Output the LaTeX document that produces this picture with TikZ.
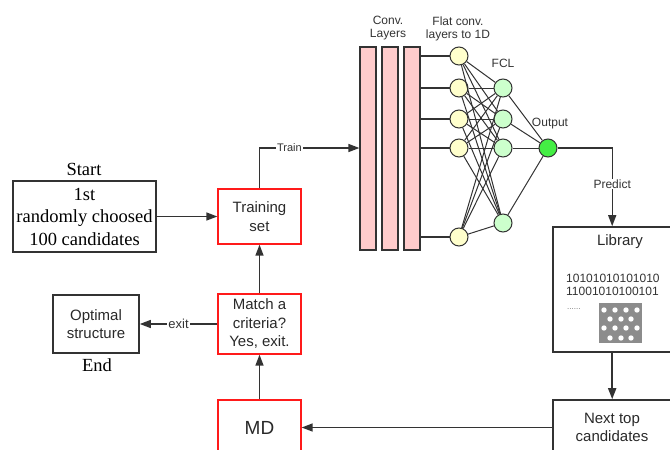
\documentclass[tikz,border=0pt]{standalone}
\usepackage{fontspec}
\setmainfont{Liberation Sans}
\newfontfamily\tnr{Liberation Serif}
\usetikzlibrary{arrows.meta}
\definecolor{ln}{HTML}{333333}
\definecolor{redb}{HTML}{FF1A1A}
\definecolor{pinkf}{HTML}{FFCCCC}
\definecolor{yelf}{HTML}{FFFFCC}
\definecolor{grnf}{HTML}{CCFFCC}
\definecolor{outf}{HTML}{44EE44}
\definecolor{imgg}{HTML}{8C8C8C}
\begin{document}
\begin{tikzpicture}[x=1pt,y=-1pt,
 base/.style={font=\fontsize{15}{18.5}\selectfont, align=center, inner sep=0pt, draw, line width=1.3pt, text=ln!80!black},
 redbox/.style={base, draw=redb, minimum width=83pt},
 blkbox/.style={base, draw=ln, line width=1.6pt},
 conv/.style={draw=ln, fill=pinkf, line width=1.2pt, minimum width=16pt, minimum height=203pt, inner sep=0pt},
 neu/.style={circle, draw=ln, line width=1pt, minimum size=18pt, inner sep=0pt},
 conn/.style={draw=ln, line width=1.4pt},
 nnl/.style={draw=ln, line width=1pt},
 arr/.style={conn, -{Triangle[length=11pt,width=8pt]}},
 small/.style={font=\fontsize{12}{13}\selectfont, align=center, text=ln},
 lbl/.style={font=\fontsize{12}{12}\selectfont, fill=white, inner sep=1pt, text=ln},
]
\useasboundingbox (0,0) rectangle (670,450);

% left flow
\node[blkbox, minimum width=143pt, minimum height=71pt, font=\tnr\fontsize{18.5}{22.5}\selectfont, text=black] (start) at (84.5,216.5) {1st\\randomly choosed\\100 candidates};
\node[font=\tnr\fontsize{18.5}{18.5}\selectfont] (startl) at (84,169) {Start};
\node[redbox, minimum height=55pt] (train) at (259.5,216.5) {Training\\set};
\node[redbox, minimum height=60pt] (match) at (259.5,324) {Match a\\criteria?\\Yes, exit.};
\node[redbox, minimum height=55pt, font=\fontsize{19}{19}\selectfont] (md) at (259.5,427.5) {MD};
\node[blkbox, minimum width=86pt, minimum height=58pt] (opt) at (96,324) {Optimal\\structure};
\node[font=\tnr\fontsize{18.5}{18.5}\selectfont] (endl) at (97,365) {End};

% right boxes
\node[blkbox, minimum width=130pt, minimum height=125pt] (lib) at (618,289.5) {};
\node[font=\fontsize{15}{15}\selectfont, text=ln!80!black] (libt) at (620,242) {Library};
\node[font=\fontsize{12}{13}\selectfont, align=left, anchor=west, inner sep=0pt, text=ln] (bin) at (566,285) {10101010101010\\11001010100101};
\node[font=\fontsize{8}{8}\selectfont, anchor=west, inner sep=0pt, text=ln!70] (dots) at (567,309) {......};
\node[fill=imgg, minimum width=43pt, minimum height=40pt, inner sep=0pt] (img) at (620.5,323) {};
\foreach \xx in {604,615,626,637} {\fill[white] (\xx,310) circle (2.7); \fill[white] (\xx,328) circle (2.7);}
\foreach \xx in {610,621,631} {\fill[white] (\xx,319) circle (2.7); \fill[white] (\xx,338) circle (2.7);}
\node[blkbox, minimum width=130pt, minimum height=55pt] (next) at (618,427.5) {};
\node[font=\fontsize{15}{18.5}\selectfont, align=center, text=ln!80!black] (nextt) at (612,427.5) {Next top\\candidates};

% network
\node[conv] (c1) at (368,148.5) {};
\node[conv] (c2) at (390,148.5) {};
\node[conv] (c3) at (412,148.5) {};
\foreach \i/\yy in {1/56,2/88,3/119,4/148,5/237} \node[neu, fill=yelf] (y\i) at (459,\yy) {};
\foreach \j/\yy in {1/88,2/119,3/148,4/223} \node[neu, fill=grnf] (g\j) at (503,\yy) {};
\node[neu, fill=outf] (out) at (548,148) {};
\foreach \i in {1,...,5} \draw[nnl, line width=1.3pt] (y\i -| c3.east) -- (y\i);
\foreach \i in {1,...,5} \foreach \j in {1,...,4} \draw[nnl] (y\i) -- (g\j);
\foreach \j in {1,...,4} \draw[nnl] (g\j) -- (out);

\node[small] (convl) at (388,28.5) {Conv.\\Layers};
\node[small] (flatl) at (458,28.5) {Flat conv.\\layers to 1D};
\node[small] (fcl) at (503,63) {FCL};
\node[small] (outl) at (550,124) {Output};

% connectors
\draw[arr] (start) -- (train);
\draw[arr] (match) -- (train);
\draw[arr] (md) -- (match);
\draw[arr] (match) -- node[lbl, font=\fontsize{13}{13}\selectfont]{exit} (opt);
\draw[arr] (train.north) |- node[lbl, pos=0.65, font=\fontsize{11}{11}\selectfont]{Train} (c1.west |- y4);
\draw[arr] (out) -| node[lbl, pos=0.73]{Predict} ([xshift=60pt]lib.north west);
\draw[arr, line width=1.8pt] ([xshift=60pt]lib.south west) -- ([xshift=60pt]next.north west);
\draw[arr] (next.west) -- (md.east);
\end{tikzpicture}
\end{document}
